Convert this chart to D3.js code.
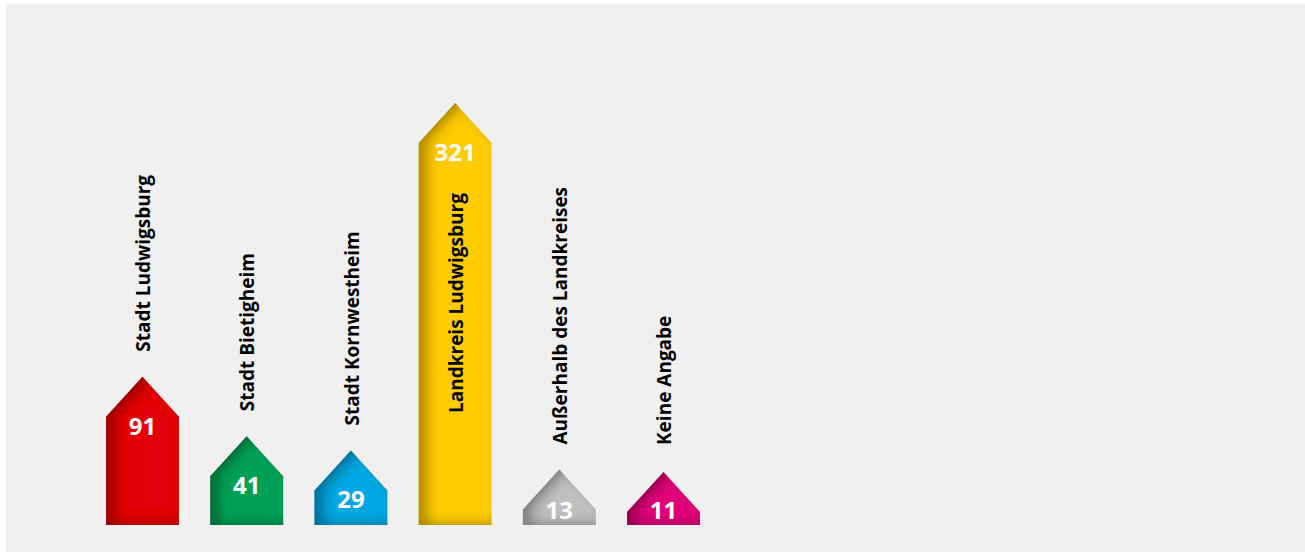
<!DOCTYPE html>
<html>
<head>
<meta charset="utf-8">
<script src="https://cdn.jsdelivr.net/npm/d3@7"></script>
<style>
  html, body { margin: 0; padding: 0; background: #fff; }
  svg { display: block; }
</style>
</head>
<body>
<svg id="chart"></svg>
<script>
var W = 1305, H = 553;

var categories = ["Stadt Ludwigsburg", "Stadt Bietigheim", "Stadt Kornwestheim",
                  "Landkreis Ludwigsburg", "Außerhalb des Landkreises", "Keine Angabe"];
var values = [91, 41, 29, 321, 13, 11];
var colors = ["#e2000f", "#00a155", "#00a8e2", "#ffcc00", "#bfc1bf", "#e2007a"];

var svg = d3.select("#chart")
    .attr("width", W)
    .attr("height", H);

svg.append("rect")
    .attr("x", 6).attr("y", 4)
    .attr("width", W - 6).attr("height", H - 5)
    .attr("fill", "#f0f0f0");

// inner shadow to give the bars their rounded look
var defs = svg.append("defs");
var f = defs.append("filter").attr("id", "inner")
    .attr("x", "-20%").attr("y", "-20%").attr("width", "140%").attr("height", "140%");
f.append("feComponentTransfer").attr("in", "SourceAlpha").attr("result", "inv")
  .append("feFuncA").attr("type", "table").attr("tableValues", "1 0");
f.append("feOffset").attr("in", "inv").attr("dx", 8).attr("dy", -1).attr("result", "off");
f.append("feGaussianBlur").attr("in", "off").attr("stdDeviation", 7).attr("result", "blur");
f.append("feComposite").attr("in", "blur").attr("in2", "SourceAlpha").attr("operator", "in").attr("result", "sh");
f.append("feFlood").attr("flood-color", "#000").attr("flood-opacity", 0.7).attr("result", "col");
f.append("feComposite").attr("in", "col").attr("in2", "sh").attr("operator", "in").attr("result", "shadow");
var m = f.append("feMerge");
m.append("feMergeNode").attr("in", "SourceGraphic");
m.append("feMergeNode").attr("in", "shadow");

var x = d3.scaleBand()
    .domain(categories)
    .range([90.4, 715.6])
    .paddingInner(0.3)
    .paddingOuter(0.15);

var y = d3.scaleLinear()
    .domain([0, 321])
    .range([525, 143]);

var tip = 40;
var bw = x.bandwidth();

function arrow(d, i) {
    var x0 = x(d), x1 = x0 + bw, top = y(values[i]), b = y(0);
    return "M" + x0 + "," + b + "L" + x0 + "," + top + "L" + (x0 + bw / 2) + "," + (top - tip) +
           "L" + x1 + "," + top + "L" + x1 + "," + b + "Z";
}

var g = svg.append("g");

g.selectAll("path.bar")
    .data(categories)
    .enter().append("path")
    .attr("class", "bar")
    .attr("d", arrow)
    .attr("fill", function(d, i) { return colors[i]; })
    .attr("filter", "url(#inner)");

g.selectAll("text.val")
    .data(categories)
    .enter().append("text")
    .attr("class", "val")
    .attr("x", function(d) { return x(d) + bw / 2; })
    .attr("y", function(d, i) { return Math.min(y(values[i]) + 18, 519); })
    .attr("text-anchor", "middle")
    .attr("font-family", "'Open Sans', sans-serif")
    .attr("font-weight", "bold")
    .attr("font-size", "24px")
    .attr("fill", "#fff")
    .text(function(d, i) { return values[i]; });

var labels = g.selectAll("text.cat")
    .data(categories)
    .enter().append("text")
    .attr("class", "cat")
    .attr("text-anchor", "start")
    .attr("dy", "0.35em")
    .attr("font-family", "'Open Sans', sans-serif")
    .attr("font-weight", "bold")
    .attr("font-size", "19px")
    .attr("fill", "#000")
    .text(function(d) { return d; });

labels.attr("transform", function(d, i) {
    var len = this.getComputedTextLength();
    var apex = y(values[i]) - tip;
    var end = Math.min(apex - 25, 445);
    if (end - len < 40) end = y(0) - 112;  // no room above: put it inside the bar
    return "translate(" + (x(d) + bw / 2 + 1) + "," + end + ") rotate(-90)";
});
</script>
</body>
</html>
